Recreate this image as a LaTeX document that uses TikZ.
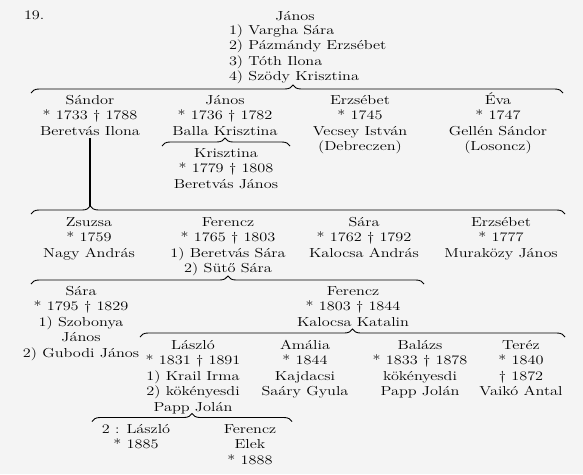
\documentclass[tikz,border=0pt]{standalone}
\usepackage{fontspec}
\usetikzlibrary{decorations.pathreplacing}
\definecolor{bg}{RGB}{244,244,244}
\begin{document}
\begin{tikzpicture}[x=1pt,y=-1pt,
  every node/.style={inner sep=0pt,outer sep=0pt,xscale=1.25,transform shape,
    font=\fontsize{13}{15.4}\selectfont},
  person/.style={align=center,anchor=base},
  bracestyle/.style={line width=0.9pt,decorate,
    decoration={brace,amplitude=8pt,aspect=#1}},
  descline/.style={line width=1.3pt}]
\fill[bg] (0,0) rectangle (583,474);
\useasboundingbox (0,0) rectangle (583,474);
% header
\node[anchor=base west] (num) at (24,19.5) {19.};
\node[person] (janos0) at (295,20) {János};
\node[anchor=base west,align=left] (wives) at (229,80.7)
  {1) Vargha Sára\\2) Pázmándy Erzsébet\\3) Tóth Ilona\\4) Szödy Krisztina};
% generation 1
\node[person] (sandor) at (90,135.3) {Sándor\\* 1733 † 1788\\Beretvás Ilona};
\node[person] (janos1) at (225,135.3) {János\\* 1736 † 1782\\Balla Krisztina};
\node[person] (erzs1) at (360,150.7) {Erzsébet\\* 1745\\Vecsey István\\(Debreczen)};
\node[person] (eva) at (498,150.7) {Éva\\* 1747\\Gellén Sándor\\(Losoncz)};
\node[person] (kriszt) at (226,188) {Krisztina\\* 1779 † 1808\\Beretvás János};
% generation 2
\node[person] (zsuzsa) at (89,257.3) {Zsuzsa\\* 1759\\Nagy András};
\node[person] (ferencz1) at (228,272.7) {Ferencz\\* 1765 † 1803\\1) Beretvás Sára\\2) Sütő Sára};
\node[person] (sara1) at (364,257.3) {Sára\\* 1762 † 1792\\Kalocsa András};
\node[person] (erzs2) at (501,257.3) {Erzsébet\\* 1777\\Muraközy János};
% generation 3
\node[person] (sara2) at (81,357.1) {Sára\\* 1795 † 1829\\1) Szobonya\\János\\2) Gubodi János};
\node[person] (ferencz2) at (353,326.3) {Ferencz\\* 1803 † 1844\\Kalocsa Katalin};
% generation 4
\node[person] (laszlo1) at (193,411.1) {László\\* 1831 † 1891\\1) Krail Irma\\2) kökényesdi\\Papp Jolán};
\node[person] (amalia) at (305,395.7) {Amália\\* 1844\\Kajdacsi\\Saáry Gyula};
\node[person] (balazs) at (420,395.7) {Balázs\\* 1833 † 1878\\kökényesdi\\Papp Jolán};
\node[person] (terez) at (521,395.7) {Teréz\\* 1840\\† 1872\\Vaikó Antal};
% generation 5
\node[person] (laszlo2) at (136,448.9) {2 : László\\* 1885};
\node[person] (ferencz3) at (250,464.3) {Ferencz\\Elek\\* 1888};
% brace end points
\coordinate (b1a) at (31,93);   \coordinate (b1b) at (563,93);
\coordinate (b2a) at (162,146); \coordinate (b2b) at (290,146);
\coordinate (b3a) at (31,214);  \coordinate (b3b) at (565,214);
\coordinate (b3tip) at (90,206);
\coordinate (b4a) at (31,284);  \coordinate (b4b) at (424,284);
\coordinate (b5a) at (140,337); \coordinate (b5b) at (565,337);
\coordinate (b6a) at (92,421.5);\coordinate (b6b) at (292,421.5);
% braces
\draw[bracestyle=0.4925] (b1a) -- (b1b);
\draw[bracestyle=0.492] (b2a) -- (b2b);
\draw[bracestyle=0.111] (b3a) -- (b3b);
\draw[bracestyle=0.501] (b4a) -- (b4b);
\draw[bracestyle=0.5] (b5a) -- (b5b);
\draw[bracestyle=0.5] (b6a) -- (b6b);
% line of descent
\draw[descline] ([yshift=-3pt]sandor.south) -- (sandor.south |- b3tip);
\end{tikzpicture}
\end{document}
